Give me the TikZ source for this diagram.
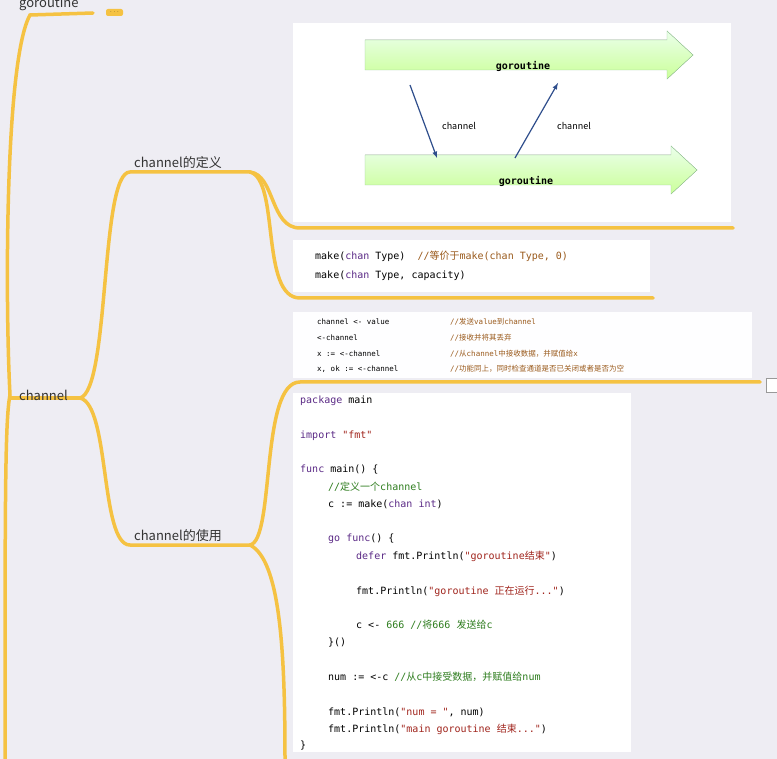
\documentclass[tikz,border=0pt]{standalone}
\usepackage{fontspec}
\setmainfont{Noto Sans CJK SC}
\newfontfamily\cjk{Noto Sans CJK SC}
\setmonofont{DejaVu Sans Mono}
\usetikzlibrary{positioning}
\definecolor{bg}{HTML}{EEEDF3}
\definecolor{branch}{HTML}{F5C242}
\definecolor{kw}{HTML}{5B2A86}
\definecolor{str}{HTML}{A0241C}
\definecolor{cmt}{HTML}{2E7D1E}
\definecolor{brn}{HTML}{9A5A1C}
\definecolor{arr}{HTML}{2F4E8C}
\newcommand{\zh}[1]{{\cjk #1}}
\tikzset{
  branch/.style={draw=branch, line width=3.5pt, line cap=round},
  topic/.style={anchor=south west, font=\fontsize{13}{15}\selectfont, text=black!80, inner sep=1pt},
  panel/.style={fill=white, draw=none},
  code/.style={anchor=west, font=\ttfamily\fontsize{10}{12}\selectfont, inner sep=0pt},
  small/.style={anchor=west, font=\ttfamily\fontsize{7.5}{9}\selectfont, inner sep=0pt},
  pipe/.style={top color=green!8, bottom color=green!35!lime!40, draw=green!50!black!40},
  flow/.style={draw=arr, line width=1.2pt, -latex}
}
\begin{document}
\begin{tikzpicture}[x=1pt,y=-1pt]
\fill[bg] (0,0) rectangle (777,759);
\useasboundingbox (0,0) rectangle (777,759);

% panels
\fill[panel] (293,23) rectangle (731,222);
\fill[panel] (293,240) rectangle (650,292);
\fill[white!97!bg] (293,312) rectangle (752,378);
\fill[panel] (293,393) rectangle (631,752);

% mind map branches
\draw[branch] (5,759) .. controls (5,500) and (5,420) .. (10,395) .. controls (5,300) and (5,60) .. (30,15) -- (93,13);
\draw[branch] (10,398) -- (80,398);
\draw[branch] (80,398) .. controls (110,390) and (100,172) .. (130,172) -- (250,172);
\draw[branch] (250,172) .. controls (275,175) and (270,228) .. (300,228) -- (733,228);
\draw[branch] (250,172) .. controls (280,180) and (260,298) .. (300,298) -- (653,298);
\draw[branch] (80,398) .. controls (110,405) and (100,545) .. (130,545) -- (250,545);
\draw[branch] (250,545) .. controls (275,540) and (260,382) .. (300,382) -- (760,382);
\draw[branch] (250,545) .. controls (280,560) and (285,650) .. (285,759);
\fill[fill=branch, rounded corners=2pt] (106,9) rectangle (123,16);
\node[font=\tiny, inner sep=0pt] (more) at (114.5,12.5) {$\cdots$};
\draw[black!40, fill=white] (766,378) rectangle (777,392);

\node[topic] (tgor) at (18,12) {goroutine};
\node[topic] (tchan) at (18,402) {channel};
\node[topic] (tdef) at (133,170) {channel的定义};
\node[topic] (tuse) at (133,543) {channel的使用};

% goroutine / channel picture
\fill[pipe] (365,40) -- (667,40) -- (667,31) -- (693,55) -- (667,79) -- (667,70) -- (365,70) -- cycle;
\fill[pipe] (365,155) -- (671,155) -- (671,146) -- (697,170) -- (671,194) -- (671,185) -- (365,185) -- cycle;
\node[font=\ttfamily\bfseries\fontsize{10}{12}\selectfont] (g1) at (523,66) {goroutine};
\node[font=\ttfamily\bfseries\fontsize{10}{12}\selectfont] (g2) at (526,181) {goroutine};
\coordinate (a1) at (410,85);
\coordinate (b1) at (437,158);
\coordinate (a2) at (515,158);
\coordinate (b2) at (558,83);
\draw[flow] (a1) -- (b1);
\draw[flow] (a2) -- (b2);
\node[font=\fontsize{9}{11}\selectfont] (c1) at (459,126) {channel};
\node[font=\fontsize{9}{11}\selectfont] (c2) at (574,126) {channel};

% make
\node[code] (m1) at (315,256) {make(\textcolor{kw}{chan} Type)\ \ \textcolor{brn}{//\zh{等价于}make(chan Type, 0)}};
\node[code] (m2) at (315,276) {make(\textcolor{kw}{chan} Type, capacity)};

% operators
\foreach \y/\c/\t in {322/{channel <- value}/{//\zh{发送}value\zh{到}channel},
                      338/{<-channel}/{//\zh{接收并将其丢弃}},
                      354/{x := <-channel}/{//\zh{从}channel\zh{中接收数据，并赋值给}x},
                      369/{x, ok := <-channel}/{//\zh{功能同上，同时检查通道是否已关闭或者是否为空}}}{
  \node[small] at (317,\y) {\c};
  \node[small, text=brn] at (450,\y) {\t};
}

% code
\node[code] (l1) at (300,401) {\textcolor{kw}{package} main};
\node[code] (l2) at (300,436) {\textcolor{kw}{import} \textcolor{str}{"fmt"}};
\node[code] (l3) at (300,470) {\textcolor{kw}{func} main() \{};
\node[code] (l4) at (328,487) {\textcolor{cmt}{//\zh{定义一个}channel}};
\node[code] (l5) at (328,504) {c := make(\textcolor{kw}{chan int})};
\node[code] (l6) at (328,539) {\textcolor{kw}{go func}() \{};
\node[code] (l7) at (356,556) {\textcolor{kw}{defer} fmt.Println(\textcolor{str}{"goroutine\zh{结束}"})};
\node[code] (l8) at (356,591) {fmt.Println(\textcolor{str}{"goroutine \zh{正在运行}..."})};
\node[code] (l9) at (356,625) {c <- \textcolor{cmt}{666 //\zh{将}666 \zh{发送给}c}};
\node[code] (l10) at (328,643) {\}()};
\node[code] (l11) at (328,677) {num := <-c \textcolor{cmt}{//\zh{从}c\zh{中接受数据，并赋值给}num}};
\node[code] (l12) at (328,712) {fmt.Println(\textcolor{str}{"num = "}, num)};
\node[code] (l13) at (328,729) {fmt.Println(\textcolor{str}{"main goroutine \zh{结束}..."})};
\node[code] (l14) at (300,746) {\}};
\end{tikzpicture}
\end{document}
